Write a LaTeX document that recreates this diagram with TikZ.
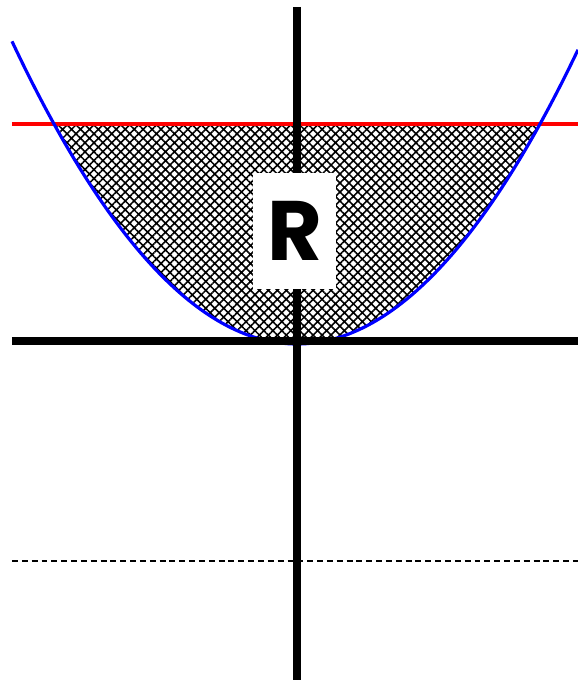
\documentclass[tikz,border=0pt]{standalone}
\usepackage{fontspec}
\setsansfont{Poppins}
\usepackage{xcolor}
\usepackage{tikz}
\usetikzlibrary{patterns.meta}
\definecolor{cCurve}{HTML}{0000FF}
\definecolor{cLevel}{HTML}{FF0000}
\definecolor{cInk}{HTML}{000000}
\tikzset{
  axis/.style    = {draw=cInk, line width=2pt},
  curve/.style   = {draw=cCurve, line width=0.9pt},
  level/.style   = {draw=cLevel, line width=1.1pt},
  guide/.style   = {draw=cInk, line width=0.6pt, dash pattern=on 1.7pt off 1.1pt},
  region/.style  = {draw=cInk, line width=0.4pt,
                    pattern={Hatch[angle=45, distance=1.8pt, line width=0.45pt]},
                    pattern color=cInk},
  tag/.style     = {fill=white, minimum width=8.3mm, minimum height=11.6mm,
                    inner sep=0pt, font=\sffamily\bfseries\fontsize{24}{24}\selectfont},
}
\begin{document}
\begin{tikzpicture}
  \useasboundingbox (-2.97,-3.43) rectangle (2.81,3.41);
  % end points of the lines
  \coordinate (xl) at (-2.85,0);
  \coordinate (xr) at (2.81,0);
  \coordinate (yt) at (0,3.34);
  \coordinate (yb) at (0,-3.39);
  \coordinate (ll) at (-2.85,2.17);
  \coordinate (lr) at (2.81,2.17);
  \coordinate (gl) at (-2.85,-2.20);
  \coordinate (gr) at (2.81,-2.20);
  % hatched region under the level line
  \path[region] plot[domain=-2.43:2.43, samples=80] (\x,{0.3726*\x*\x-0.03}) -- cycle;
  \draw[level] (ll) -- (lr);
  \draw[guide] (gl) -- (gr);
  \draw[curve] plot[domain=-2.85:2.81, samples=120] (\x,{0.3726*\x*\x-0.03});
  \draw[axis] (xl) -- (xr);
  \draw[axis] (yt) -- (yb);
  \node[tag] (lblR) at (-0.025,1.10) {R};
\end{tikzpicture}
\end{document}
